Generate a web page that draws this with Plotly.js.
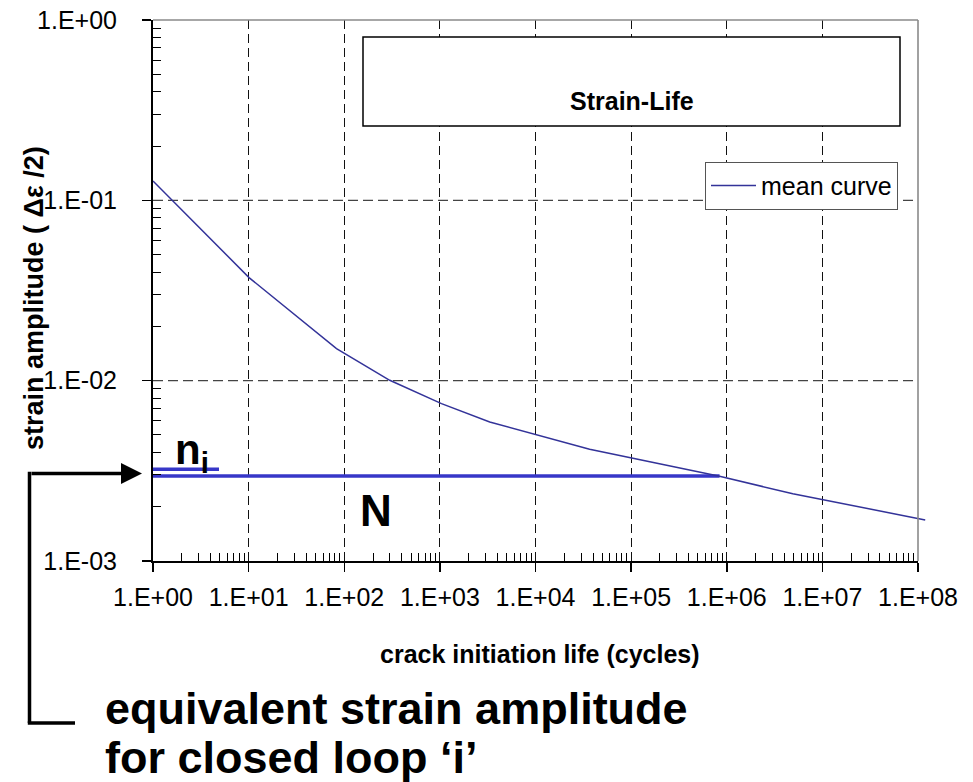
<!DOCTYPE html>
<html>
<head>
<meta charset="utf-8">
<script src="https://cdn.plot.ly/plotly-3.0.1.min.js"></script>
<style>html,body{margin:0;padding:0;background:#fff;}#chart{width:973px;height:782px;}</style>
</head>
<body>
<div id="chart"></div>
<script>
// ---- data ----
const cycles    = [1, 10.1, 83, 299, 1040, 3320, 36800, 841000, 4.91e6, 1.19e8];
const strainAmp = [0.128, 0.0373, 0.01507, 0.01005, 0.00746, 0.00590, 0.00417, 0.00295, 0.00236, 0.00169];
const niCycles  = [1, 4.9];
const niStrain  = [0.00323, 0.00323];
const NCycles   = [1, 841000];
const NStrain   = [0.00296, 0.00296];
const xTickVals = [1, 10, 100, 1e3, 1e4, 1e5, 1e6, 1e7, 1e8];
const xTickText = ["1.E+00","1.E+01","1.E+02","1.E+03","1.E+04","1.E+05","1.E+06","1.E+07","1.E+08"];
const yTickVals = [0.001, 0.01, 0.1, 1];
const yTickText = ["1.E-03","1.E-02","1.E-01","1.E+00"];
const yGridVals = [0.01, 0.1];

const FONT = "Liberation Sans, Arial, Helvetica, sans-serif";
const DOM_END = 765 / 773;

function minorVals(lo, hi) {
  const v = [];
  for (let e = lo; e < hi; e++) for (let d = 2; d <= 9; d++) v.push(d * Math.pow(10, e));
  return v;
}

const traces = [
  {x: niCycles, y: niStrain, type: 'scatter', mode: 'lines', showlegend: false,
   line: {color: '#3737c8', width: 3.5}, hoverinfo: 'skip'},
  {x: NCycles, y: NStrain, type: 'scatter', mode: 'lines', showlegend: false,
   line: {color: '#3737c8', width: 3.5}, hoverinfo: 'skip'},
  {x: cycles, y: strainAmp, xaxis: 'x2', yaxis: 'y', type: 'scatter', mode: 'lines',
   name: 'mean curve', line: {color: '#333399', width: 1.5}, showlegend: true}
];

const shapes = [];
yGridVals.forEach(v => shapes.push({type: 'line', xref: 'paper', yref: 'y', x0: 0, x1: DOM_END, y0: v, y1: v,
  line: {color: '#444', width: 1.2, dash: '10px,5px'}, layer: 'below'}));
// plot-area border (top/right grey)
shapes.push({type: 'line', xref: 'paper', yref: 'paper', x0: 0, x1: DOM_END, y0: 1, y1: 1, line: {color: '#8a8a8a', width: 1.6}});
shapes.push({type: 'line', xref: 'paper', yref: 'paper', x0: DOM_END, x1: DOM_END, y0: 0, y1: 1, line: {color: '#8a8a8a', width: 1.6}});
// title box
shapes.push({type: 'rect', xref: 'paper', yref: 'paper', x0: (363-153)/773, x1: (900-153)/773,
  y0: (561-126)/541, y1: (561-37)/541, fillcolor: '#fff', line: {color: '#000', width: 1.5}, layer: 'above'});
// bracket
shapes.push({type: 'line', xref: 'paper', yref: 'paper', x0: (29.5-153)/773, x1: (29.5-153)/773,
  y0: (561-471.8)/541, y1: (561-723)/541, line: {color: '#000', width: 3.5}});
shapes.push({type: 'line', xref: 'paper', yref: 'paper', x0: (27.8-153)/773, x1: (75-153)/773,
  y0: (561-723)/541, y1: (561-723)/541, line: {color: '#000', width: 3.5}});

const annotations = [
  {xref: 'paper', yref: 'paper', x: (142-153)/773, y: (561-473.5)/541, ax: -112, ay: 0, text: '',
   showarrow: true, arrowhead: 2, arrowsize: 1.2, arrowwidth: 3.5, arrowcolor: '#000', standoff: 0},
  {xref: 'paper', yref: 'paper', x: (632-153)/773, y: (561-101)/541, text: '<b>Strain-Life</b>',
   showarrow: false, font: {family: FONT, size: 25, color: '#000'}, xanchor: 'center', yanchor: 'middle'},
  {xref: 'paper', yref: 'paper', x: (34-153)/773, y: (561-298)/541, text: '<b>strain amplitude ( Δε /2)</b>',
   textangle: -90, showarrow: false, font: {family: FONT, size: 27, color: '#000'}, xanchor: 'center', yanchor: 'middle'},
  {xref: 'paper', yref: 'paper', x: (540-153)/773, y: (561-654)/541, text: '<b>crack initiation life (cycles)</b>',
   showarrow: false, font: {family: FONT, size: 25, color: '#000'}, xanchor: 'center', yanchor: 'middle'},
  {xref: 'paper', yref: 'paper', x: (192-153)/773, y: (561-452)/541, text: '<b>n<sub>i</sub></b>',
   showarrow: false, font: {family: FONT, size: 42, color: '#000'}, xanchor: 'center', yanchor: 'middle'},
  {xref: 'paper', yref: 'paper', x: (376-153)/773, y: (561-510)/541, text: '<b>N</b>',
   showarrow: false, font: {family: FONT, size: 44, color: '#000'}, xanchor: 'center', yanchor: 'middle'},
  {xref: 'paper', yref: 'paper', x: (103-153)/773, y: (561-708)/541, text: '<b>equivalent strain amplitude</b>',
   showarrow: false, font: {family: FONT, size: 45, color: '#000'}, xanchor: 'left', yanchor: 'middle'},
  {xref: 'paper', yref: 'paper', x: (103-153)/773, y: (561-757)/541, text: '<b>for closed loop ‘i’</b>',
   showarrow: false, font: {family: FONT, size: 45, color: '#000'}, xanchor: 'left', yanchor: 'middle'}
];

const layout = {
  width: 973, height: 782,
  margin: {l: 153, r: 47, t: 20, b: 221, pad: 0},
  paper_bgcolor: '#fff', plot_bgcolor: 'rgba(0,0,0,0)',
  font: {family: FONT, size: 24, color: '#000'},
  showlegend: true,
  legend: {x: (898-153)/773, xanchor: 'right', y: (561-161.7)/541, yanchor: 'top',
    bgcolor: '#fff', bordercolor: '#555', borderwidth: 1, font: {family: FONT, size: 25, color: '#000'},
    itemwidth: 45, tracegroupgap: 0},
  xaxis: {type: 'log', domain: [0, DOM_END], range: [0, 8], anchor: 'y',
    tickmode: 'array', tickvals: xTickVals, ticktext: xTickText, tickangle: 0,
    ticks: 'outside', ticklen: 9, tickwidth: 1.5, tickcolor: '#000',
    showline: true, linecolor: '#000', linewidth: 2, mirror: false,
    showgrid: true, gridcolor: '#111', gridwidth: 1, griddash: '9px,5px',
    zeroline: false, ticklabelstandoff: 4,
    tickfont: {family: FONT, size: 25, color: '#000'},
    minor: {tickmode: 'array', tickvals: minorVals(0, 8), ticks: 'inside', ticklen: 8, tickwidth: 1, tickcolor: '#000', showgrid: false}},
  xaxis2: {type: 'log', domain: [0, 1], range: [0, 8 * 773 / 765], anchor: 'y', visible: false,
    showgrid: false, zeroline: false},
  yaxis: {type: 'log', domain: [0, 1], range: [-3, 0], anchor: 'x',
    tickmode: 'array', tickvals: yTickVals, ticktext: yTickText,
    ticks: 'outside', ticklen: 9, tickwidth: 1.5, tickcolor: '#000',
    showline: true, linecolor: '#000', linewidth: 2, mirror: false,
    showgrid: false, zeroline: false, ticklabelstandoff: 20,
    tickfont: {family: FONT, size: 25, color: '#000'},
    minor: {tickmode: 'array', tickvals: minorVals(-3, 0), ticks: 'inside', ticklen: 8, tickwidth: 1, tickcolor: '#000', showgrid: false}},
  shapes: shapes,
  annotations: annotations
};

Plotly.newPlot('chart', traces, layout, {displayModeBar: false, staticPlot: true});
</script>
</body>
</html>
